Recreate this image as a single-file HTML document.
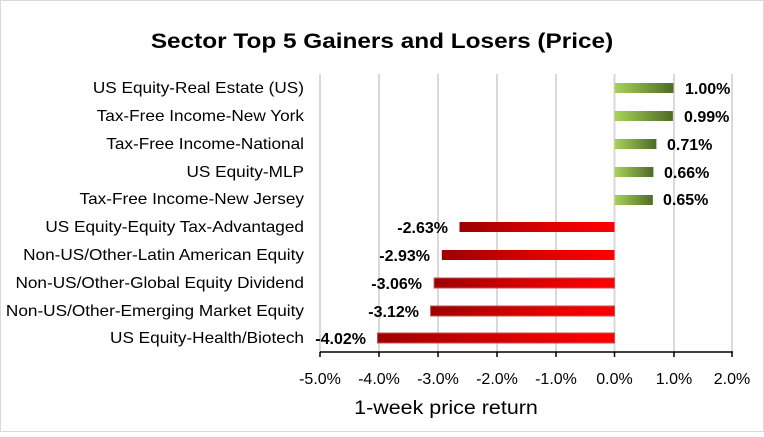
<!DOCTYPE html>
<html><head><style>
body{margin:0;background:#fff;}
svg text{font-family:"Liberation Sans",Calibri,sans-serif;}
</style></head><body>
<svg width="764" height="432" viewBox="0 0 764 432" xmlns="http://www.w3.org/2000/svg">
<defs>
<linearGradient id="r" x1="0" x2="1" y1="0" y2="0"><stop offset="0" stop-color="#9c0000"/><stop offset="0.6" stop-color="#e00000"/><stop offset="1" stop-color="#ff0000"/></linearGradient>
<linearGradient id="g" x1="0" x2="1" y1="0" y2="0"><stop offset="0" stop-color="#a9d25a"/><stop offset="1" stop-color="#4e6b25"/></linearGradient>
</defs>
<rect x="0.5" y="0.5" width="763" height="431" fill="#fff" stroke="#d9d9d9"/>
<text x="0" y="48" text-anchor="middle" font-size="21" font-weight="bold" transform="translate(382,0) scale(1.16,1)">Sector Top 5 Gainers and Losers (Price)</text>
<g stroke="#d9d9d9" stroke-width="2">
<line x1="320" y1="74" x2="320" y2="352"/><line x1="379" y1="74" x2="379" y2="352"/><line x1="438" y1="74" x2="438" y2="352"/><line x1="497" y1="74" x2="497" y2="352"/><line x1="556" y1="74" x2="556" y2="352"/><line x1="674" y1="74" x2="674" y2="352"/><line x1="732" y1="74" x2="732" y2="352"/>
</g>
<line x1="614.5" y1="74" x2="614.5" y2="352" stroke="#d9d9d9" stroke-width="2"/>
<line x1="320" y1="352" x2="733" y2="352" stroke="#000" stroke-width="1.5"/>
<g stroke="#000" stroke-width="1.5">
<line x1="320" y1="352" x2="320" y2="357"/><line x1="379" y1="352" x2="379" y2="357"/><line x1="438" y1="352" x2="438" y2="357"/><line x1="497" y1="352" x2="497" y2="357"/><line x1="556" y1="352" x2="556" y2="357"/><line x1="614.5" y1="352" x2="614.5" y2="357"/><line x1="674" y1="352" x2="674" y2="357"/><line x1="732" y1="352" x2="732" y2="357"/>
</g>
<g font-size="16" text-anchor="middle" fill="#000">
<text x="320" y="384">-5.0%</text><text x="379" y="384">-4.0%</text><text x="438" y="384">-3.0%</text><text x="497" y="384">-2.0%</text><text x="556" y="384">-1.0%</text><text x="614.5" y="384">0.0%</text><text x="674" y="384">1.0%</text><text x="732" y="384">2.0%</text>
</g>
<text x="0" y="414" text-anchor="middle" font-size="19" transform="translate(446,0) scale(1.13,1)">1-week price return</text>
<g font-size="15.5" text-anchor="end" transform="translate(304,0) scale(1.11,1) translate(-304,0)">
<text x="304" y="93">US Equity-Real Estate (US)</text>
<text x="304" y="121">Tax-Free Income-New York</text>
<text x="304" y="149">Tax-Free Income-National</text>
<text x="304" y="177">US Equity-MLP</text>
<text x="304" y="204">Tax-Free Income-New Jersey</text>
<text x="304" y="232">US Equity-Equity Tax-Advantaged</text>
<text x="304" y="260">Non-US/Other-Latin American Equity</text>
<text x="304" y="288">Non-US/Other-Global Equity Dividend</text>
<text x="304" y="316">Non-US/Other-Emerging Market Equity</text>
<text x="304" y="343">US Equity-Health/Biotech</text>
</g>
<g>
<rect x="614.5" y="83" width="59" height="10" fill="url(#g)"/>
<rect x="614.5" y="111" width="58.4" height="10" fill="url(#g)"/>
<rect x="614.5" y="139" width="41.9" height="10" fill="url(#g)"/>
<rect x="614.5" y="167" width="38.9" height="10" fill="url(#g)"/>
<rect x="614.5" y="195" width="38.3" height="10" fill="url(#g)"/>
<rect x="459.5" y="222" width="155" height="10" fill="url(#r)"/>
<rect x="441.8" y="250" width="172.7" height="10" fill="url(#r)"/>
<rect x="434.1" y="278" width="180.4" height="10" fill="url(#r)" stroke="#c05050" stroke-width="1"/>
<rect x="430.6" y="306" width="183.9" height="10" fill="url(#r)" stroke="#c05050" stroke-width="1"/>
<rect x="377.5" y="333" width="237" height="10" fill="url(#r)" stroke="#c05050" stroke-width="1"/>
</g>
<g font-size="16" font-weight="bold">
<text x="685" y="94">1.00%</text>
<text x="684" y="122">0.99%</text>
<text x="667" y="150">0.71%</text>
<text x="664" y="178">0.66%</text>
<text x="663" y="205">0.65%</text>
<g text-anchor="end">
<text x="448" y="233">-2.63%</text>
<text x="430" y="261">-2.93%</text>
<text x="422" y="289">-3.06%</text>
<text x="419" y="317">-3.12%</text>
<text x="366" y="344">-4.02%</text>
</g>
</g>
</svg>
</body></html>
